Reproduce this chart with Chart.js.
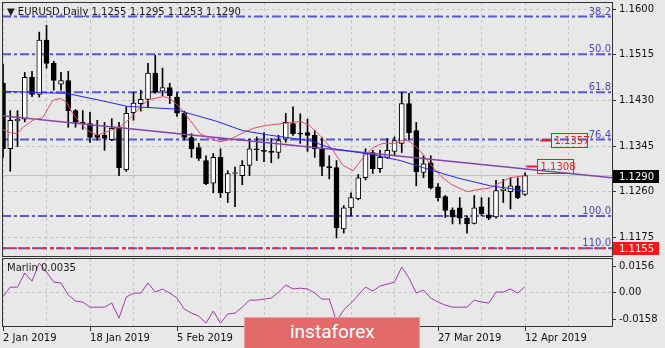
<!DOCTYPE html>
<html>
<head>
<meta charset="utf-8">
<script src="https://cdn.jsdelivr.net/npm/chart.js@4.4.1/dist/chart.umd.min.js"></script>
<style>
html, body { margin: 0; padding: 0; background: #e8e8e8; }
#wrap { position: relative; width: 665px; height: 348px; overflow: hidden; font-family: "DejaVu Sans", sans-serif; }
#main { position: absolute; left: 0; top: 0; }
#sub { position: absolute; left: 0; top: 256px; }
.lbl { position: absolute; font-size: 10px; line-height: 12px; color: #1a1a1a; white-space: pre; }
#logo { position: absolute; left: 244px; top: 317px; width: 176px; height: 32px; background: #e46a6a;
        border: 1px solid #eea0a0; color: #fff; font-family: Roboto, sans-serif; font-size: 19px;
        line-height: 28px; padding-left: 45px; box-sizing: border-box; }
</style>
</head>
<body>
<div id="wrap">
  <canvas id="main" width="665" height="258"></canvas>
  <canvas id="sub" width="665" height="92"></canvas>
  <div class="lbl" id="title" style="left:7px;top:6px"></div>
  <div class="lbl" id="ind" style="left:7px;top:262px"></div>
  <div id="logo">instaforex</div>
</div>
<script>
// trading days shown on the chart
const dates = [
  '2 Jan 2019','3 Jan 2019','4 Jan 2019','7 Jan 2019','8 Jan 2019','9 Jan 2019','10 Jan 2019','11 Jan 2019',
  '14 Jan 2019','15 Jan 2019','16 Jan 2019','17 Jan 2019','18 Jan 2019','21 Jan 2019','22 Jan 2019','23 Jan 2019',
  '24 Jan 2019','25 Jan 2019','28 Jan 2019','29 Jan 2019','30 Jan 2019','31 Jan 2019','1 Feb 2019','4 Feb 2019',
  '5 Feb 2019','6 Feb 2019','7 Feb 2019','8 Feb 2019','11 Feb 2019','12 Feb 2019','13 Feb 2019','14 Feb 2019',
  '15 Feb 2019','18 Feb 2019','19 Feb 2019','20 Feb 2019','21 Feb 2019','22 Feb 2019','25 Feb 2019','26 Feb 2019',
  '27 Feb 2019','28 Feb 2019','1 Mar 2019','4 Mar 2019','5 Mar 2019','6 Mar 2019','7 Mar 2019','8 Mar 2019',
  '11 Mar 2019','12 Mar 2019','13 Mar 2019','14 Mar 2019','15 Mar 2019','18 Mar 2019','19 Mar 2019','20 Mar 2019',
  '21 Mar 2019','22 Mar 2019','25 Mar 2019','26 Mar 2019','27 Mar 2019','28 Mar 2019','29 Mar 2019','1 Apr 2019',
  '2 Apr 2019','3 Apr 2019','4 Apr 2019','5 Apr 2019','8 Apr 2019','9 Apr 2019','10 Apr 2019','11 Apr 2019',
  '12 Apr 2019'
];

const open = [
  1.1462,1.1340,1.1392,1.1395,1.1473,1.1441,1.1542,1.1499,1.1460,1.1467,1.1411,1.1389,1.1387,1.1365,1.1365,1.1357,
  1.1380,1.1301,1.1407,1.1424,1.1432,1.1481,1.1447,1.1454,1.1436,1.1406,1.1361,1.1342,1.1318,1.1276,1.1324,1.1258,
  1.1294,1.1290,1.1309,1.1340,1.1337,1.1335,1.1333,1.1358,1.1387,1.1368,1.1370,1.1365,1.1340,1.1307,1.1305,1.1191,
  1.1230,1.1247,1.1286,1.1333,1.1303,1.1324,1.1335,1.1350,1.1424,1.1374,1.1296,1.1314,1.1269,1.1251,1.1226,1.1230,
  1.1211,1.1201,1.1232,1.1217,1.1213,1.1262,1.1260,1.1271,1.1255
];
const high = [
  1.1497,1.1411,1.1411,1.1482,1.1484,1.1557,1.1570,1.1503,1.1482,1.1484,1.1413,1.1411,1.1408,1.1393,1.1389,1.1396,
  1.1389,1.1418,1.1445,1.1449,1.1499,1.1514,1.1490,1.1462,1.1444,1.1410,1.1368,1.1350,1.1327,1.1331,1.1340,1.1299,
  1.1306,1.1318,1.1358,1.1362,1.1370,1.1359,1.1365,1.1406,1.1418,1.1405,1.1395,1.1374,1.1361,1.1327,1.1318,1.1234,
  1.1258,1.1292,1.1340,1.1337,1.1337,1.1359,1.1362,1.1445,1.1443,1.1389,1.1327,1.1327,1.1275,1.1253,1.1230,1.1249,
  1.1215,1.1253,1.1249,1.1249,1.1281,1.1283,1.1286,1.1286,1.1295
];
const low = [
  1.1324,1.1298,1.1344,1.1390,1.1437,1.1436,1.1490,1.1449,1.1449,1.1380,1.1380,1.1376,1.1352,1.1356,1.1337,1.1355,
  1.1290,1.1298,1.1393,1.1410,1.1418,1.1443,1.1439,1.1424,1.1400,1.1356,1.1324,1.1318,1.1273,1.1258,1.1249,1.1240,
  1.1232,1.1273,1.1290,1.1318,1.1316,1.1314,1.1322,1.1352,1.1365,1.1350,1.1335,1.1324,1.1290,1.1284,1.1174,1.1183,
  1.1215,1.1245,1.1282,1.1294,1.1296,1.1322,1.1327,1.1333,1.1356,1.1271,1.1286,1.1265,1.1243,1.1212,1.1200,1.1200,
  1.1183,1.1200,1.1215,1.1208,1.1211,1.1240,1.1228,1.1247,1.1253
];
const close = [
  1.1340,1.1393,1.1395,1.1473,1.1441,1.1542,1.1499,1.1467,1.1467,1.1411,1.1389,1.1387,1.1361,1.1361,1.1359,1.1378,
  1.1305,1.1406,1.1425,1.1432,1.1481,1.1445,1.1454,1.1439,1.1406,1.1361,1.1340,1.1322,1.1275,1.1324,1.1258,1.1294,
  1.1295,1.1309,1.1340,1.1338,1.1335,1.1333,1.1355,1.1389,1.1368,1.1367,1.1365,1.1340,1.1307,1.1305,1.1193,1.1230,
  1.1249,1.1286,1.1331,1.1303,1.1324,1.1337,1.1355,1.1424,1.1370,1.1297,1.1312,1.1267,1.1249,1.1225,1.1213,1.1211,
  1.1200,1.1230,1.1219,1.1211,1.1262,1.1265,1.1271,1.1249,1.1290
];

// moving averages (bar index, price)
const slowX = [-0.4,8.8,13.4,17.1,23.5,29.5,33.0,36.4,42.3,45.5,50.2,54.8,57.9,62.6,67.2,69.9,72.1];
const slowMA = [1.1447,1.1443,1.1430,1.1419,1.1414,1.1391,1.1374,1.1366,1.1355,1.1340,1.1331,1.1318,1.1305,1.1286,1.1271,1.1266,1.1260];
const fastX = [-0.4,1.0,1.9,2.8,4.1,5.5,6.2,6.9,7.9,8.8,9.5,10.6,11.7,13.0,14.8,16.1,17.5,19.3,20.3,22.1,23.0,24.4,
  25.8,27.2,28.6,29.9,31.3,32.7,34.5,36.1,38.6,41.0,42.3,43.7,45.5,46.9,48.3,49.7,51.0,52.4,54.1,55.4,56.1,57.5,
  58.9,60.3,61.7,63.0,64.1,65.4,67.2,68.6,69.9,72.0];
const fastMA = [1.1378,1.1370,1.1368,1.1380,1.1393,1.1398,1.1415,1.1430,1.1434,1.1426,1.1408,1.1389,1.1374,1.1365,
  1.1374,1.1380,1.1396,1.1423,1.1432,1.1437,1.1434,1.1417,1.1393,1.1368,1.1359,1.1353,1.1357,1.1367,1.1378,1.1383,
  1.1387,1.1391,1.1383,1.1365,1.1337,1.1309,1.1299,1.1324,1.1342,1.1350,1.1350,1.1357,1.1353,1.1337,1.1312,1.1290,
  1.1275,1.1266,1.1260,1.1264,1.1267,1.1277,1.1286,1.1290];

// trend line
const trendX = [-0.5, 84];
const trendY = [1.1402, 1.1286];

// Fibonacci levels
const fibLabels = ['38.2','50.0','61.8','76.4','100.0','110.0'];
const fibPrices = [1.1586,1.1516,1.1445,1.1357,1.1215,1.1155];

const priceTicks = [1.1600,1.1515,1.1430,1.1345,1.1260,1.1175];
const bidPrice = 1.1290;
const alertPrice = 1.1155;
const tagPrices = [1.1357, 1.1308];
const tagFrom = [74.1, 72.2];
const tagBox = [75.6, 73.6];

// Marlin oscillator
const marlin = [
  -0.0023,0.0033,0.0033,0.0115,0.0068,0.0173,0.0121,0.0062,0.0057,-0.0013,-0.0048,-0.0054,-0.0084,-0.0084,-0.0084,-0.0060,
  -0.0148,-0.0025,-0.0002,-0.0002,0.0057,0.0004,0.0022,-0.0002,-0.0031,-0.0095,-0.0119,-0.0136,-0.0177,-0.0107,-0.0177,-0.0124,
  -0.0119,-0.0084,-0.0043,-0.0043,-0.0037,-0.0031,0.0004,0.0045,0.0022,0.0027,0.0022,-0.0002,-0.0037,-0.0037,-0.0165,-0.0100,
  -0.0060,-0.0013,0.0033,0.0010,0.0039,0.0051,0.0062,0.0150,0.0086,-0.0002,0.0016,-0.0031,-0.0054,-0.0072,-0.0084,-0.0084,
  -0.0084,-0.0043,-0.0054,-0.0060,0.0004,0.0004,0.0022,-0.0002,0.0035
];
const marlinTicks = [0.0156, 0, -0.0158];

const xMin = -0.14, xMax = 84;
const gridX = [0,6,12,18,24,30,36,42,48,54,60,66,72,78,84];
const FONT = { family: 'DejaVu Sans', size: 10 };
const GRID = '#c4c4c4';

Chart.defaults.font.family = 'DejaVu Sans';
Chart.defaults.font.size = 10;

const last = dates.length - 1;
document.getElementById('title').textContent = '\u25BC EURUSD,Daily ' +
  [open[last], high[last], low[last], close[last]].map(v => v.toFixed(4)).join(' ');
document.getElementById('ind').textContent = 'Marlin ' + marlin[last].toFixed(4);

function pts(xs, ys) { return xs.map((x, k) => ({ x: x, y: ys[k] })); }

const fibSets = fibPrices.map(p => ({
  type: 'line', data: [{ x: xMin, y: p }, { x: xMax, y: p }],
  borderColor: 'rgba(72,72,205,0.9)', borderWidth: 2, borderDash: [9, 3, 3, 3],
  pointRadius: 0, order: 5
}));

const frame = {
  id: 'frame',
  afterDraw(chart) {
    const { ctx, chartArea: ca } = chart;
    ctx.save();
    ctx.strokeStyle = '#333';
    ctx.lineWidth = 1;
    ctx.strokeRect(ca.left + 0.5, ca.top + 0.5, ca.width, ca.height);
    ctx.restore();
  }
};

const marks = {
  id: 'marks',
  afterDraw(chart) {
    const { ctx, chartArea: ca, scales: { x, y } } = chart;
    ctx.save();
    ctx.font = '10px "DejaVu Sans"';
    // fib level captions
    ctx.fillStyle = '#4a4ab8';
    ctx.textAlign = 'right';
    ctx.textBaseline = 'alphabetic';
    fibPrices.forEach((p, k) => ctx.fillText(fibLabels[k], ca.right - 1, Math.round(y.getPixelForValue(p)) - 2));
    // axis price boxes
    ctx.textAlign = 'left';
    ctx.textBaseline = 'middle';
    [[bidPrice, '#000'], [alertPrice, '#ff1414']].forEach(([p, c]) => {
      const py = Math.round(y.getPixelForValue(p));
      ctx.fillStyle = c;
      ctx.fillRect(ca.right + 1, py - 6, 46, 13);
      ctx.fillStyle = '#fff';
      ctx.fillText(p.toFixed(4), ca.right + 7, py + 1);
    });
    // price tags inside the chart
    ctx.strokeStyle = '#f01c1c';
    ctx.fillStyle = '#f01c1c';
    tagPrices.forEach((p, k) => {
      const py = Math.round(y.getPixelForValue(p)) + 0.5;
      const x0 = x.getPixelForValue(tagFrom[k]);
      const bx = Math.round(x.getPixelForValue(tagBox[k])) + 0.5;
      ctx.lineWidth = 2;
      ctx.beginPath(); ctx.moveTo(x0, py); ctx.lineTo(bx, py); ctx.stroke();
      ctx.lineWidth = 1;
      ctx.strokeRect(bx, py - 7, 36, 14);
      ctx.fillText(p.toFixed(4), bx + 3, py + 1);
    });
    ctx.restore();
  }
};

new Chart(document.getElementById('main'), {
  type: 'bar',
  data: {
    datasets: [
      { type: 'line', data: [{ x: xMin, y: bidPrice }, { x: xMax, y: bidPrice }],
        borderColor: '#bdbdbd', borderWidth: 1, pointRadius: 0, order: 6 },
      ...fibSets,
      { type: 'line', data: [{ x: xMin, y: alertPrice }, { x: xMax, y: alertPrice }],
        borderColor: '#ff2a2a', borderWidth: 2, borderDash: [4, 4], pointRadius: 0, order: 4 },
      { data: dates.map((d, i) => ({ x: i, y: [low[i], high[i]] })),
        backgroundColor: '#000', barThickness: 1, grouped: false, order: 3 },
      { data: dates.map((d, i) => ({ x: i, y: [open[i], close[i]] })),
        backgroundColor: dates.map((d, i) => close[i] > open[i] ? '#fff' : '#000'),
        borderColor: '#000', borderWidth: 1, borderSkipped: false, minBarLength: 1,
        barThickness: 5, grouped: false, order: 2 },
      { type: 'line', data: pts(trendX, trendY), borderColor: '#8244aa', borderWidth: 1.5,
        pointRadius: 0, order: 1 },
      { type: 'line', data: pts(slowX, slowMA), borderColor: '#2323ff', borderWidth: 1,
        pointRadius: 0, order: 0 },
      { type: 'line', data: pts(fastX, fastMA), borderColor: '#e84a62', borderWidth: 1,
        pointRadius: 0, order: 0 }
    ]
  },
  options: {
    responsive: false, animation: false, events: [],
    layout: { padding: { top: 2, bottom: 2, left: 2, right: 0 } },
    plugins: { legend: { display: false }, tooltip: { enabled: false } },
    scales: {
      x: {
        type: 'linear', min: xMin, max: xMax, offset: false,
        afterBuildTicks: s => { s.ticks = gridX.map(v => ({ value: v })); },
        afterFit: s => { s.height = 0; s.paddingLeft = 0; s.paddingRight = 0; },
        ticks: { display: false },
        grid: { color: GRID, drawTicks: false, offset: false },
        border: { display: false, dash: [3, 3] }
      },
      y: {
        position: 'right', min: 1.11404, max: 1.16131,
        afterBuildTicks: s => { s.ticks = priceTicks.map(v => ({ value: v })); },
        afterFit: s => { s.width = 53; s.paddingTop = 0; s.paddingBottom = 0; },
        ticks: { color: '#111', font: FONT, padding: 3, callback: v => v.toFixed(4) },
        grid: { color: GRID, tickLength: 4, tickColor: '#333' },
        border: { display: false, dash: [3, 3] }
      }
    }
  },
  plugins: [frame, marks]
});

new Chart(document.getElementById('sub'), {
  type: 'line',
  data: {
    datasets: [
      { data: dates.map((d, i) => ({ x: i, y: marlin[i] })), borderColor: '#a236ac',
        borderWidth: 1, pointRadius: 0 }
    ]
  },
  options: {
    responsive: false, animation: false, events: [],
    layout: { padding: { top: 2, bottom: 0, left: 2, right: 0 } },
    plugins: { legend: { display: false }, tooltip: { enabled: false } },
    scales: {
      x: {
        type: 'linear', min: xMin, max: xMax, offset: false,
        afterBuildTicks: s => { s.ticks = gridX.map(v => ({ value: v })); },
        afterFit: s => { s.height = 22; s.paddingLeft = 0; s.paddingRight = 0; },
        ticks: { autoSkip: false, maxRotation: 0, align: 'start', padding: 1, color: '#111', font: FONT,
                 callback: v => (v % 12 === 0 && dates[v]) ? dates[v] : '' },
        grid: { color: GRID, tickLength: 5,
                tickColor: c => (c.tick && c.tick.value % 12 === 0 && c.tick.value <= last) ? '#333' : 'rgba(0,0,0,0)' },
        border: { display: false, dash: [3, 3] }
      },
      y: {
        position: 'right', min: -0.0194, max: 0.0203,
        afterBuildTicks: s => { s.ticks = marlinTicks.map(v => ({ value: v })); },
        afterFit: s => { s.width = 53; s.paddingTop = 0; s.paddingBottom = 0; },
        ticks: { color: '#111', font: FONT, padding: 3, callback: v => v === 0 ? '0.00' : v.toFixed(4) },
        grid: { color: c => (c.tick && c.tick.value === 0) ? GRID : 'rgba(0,0,0,0)', tickLength: 4, tickColor: '#333' },
        border: { display: false, dash: [3, 3] }
      }
    }
  },
  plugins: [frame]
});
</script>
</body>
</html>
